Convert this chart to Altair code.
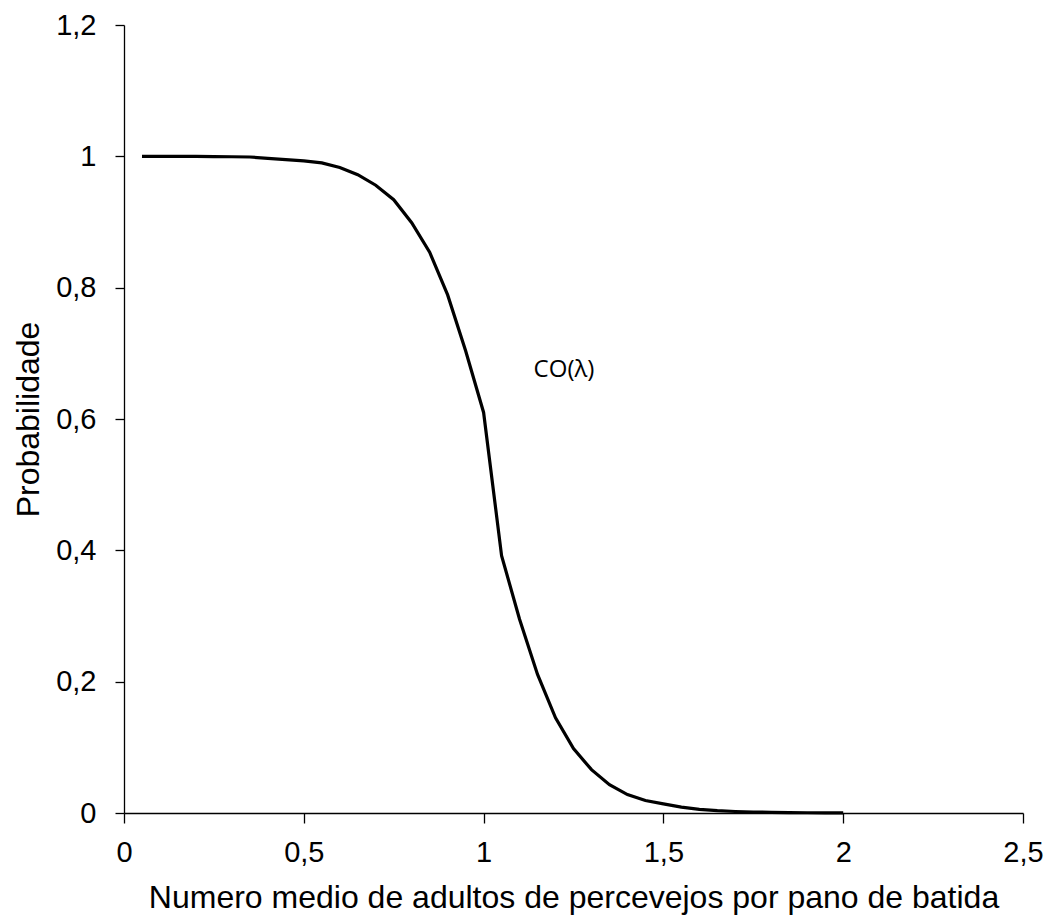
import altair as alt
import pandas as pd

x_vals = [0.05, 0.10, 0.15, 0.20, 0.25, 0.30, 0.35, 0.40, 0.45, 0.50,
          0.55, 0.60, 0.65, 0.70, 0.75, 0.80, 0.85, 0.90, 0.95, 1.00,
          1.05, 1.10, 1.15, 1.20, 1.25, 1.30, 1.35, 1.40, 1.45, 1.50,
          1.55, 1.60, 1.65, 1.70, 1.75, 1.80, 1.85, 1.90, 1.95, 2.00]
prob = [1.0, 1.0, 1.0, 0.9999, 0.9997, 0.9994, 0.999, 0.997, 0.995, 0.993,
        0.990, 0.983, 0.972, 0.956, 0.934, 0.899, 0.854, 0.789, 0.704, 0.610,
        0.392, 0.295, 0.211, 0.145, 0.098, 0.066, 0.043, 0.028, 0.019, 0.014,
        0.0090, 0.0055, 0.0035, 0.0023, 0.0015, 0.0010, 0.0006, 0.0004, 0.0002, 0.0001]

x_ticks = [0, 0.5, 1, 1.5, 2, 2.5]
y_ticks = [0, 0.2, 0.4, 0.6, 0.8, 1.0, 1.2]

label_text = ["CO(λ)"]
label_x = [1.2236]
label_y = [0.6636]

df = pd.DataFrame({"x": x_vals, "p": prob})
lab = pd.DataFrame({"x": label_x, "y": label_y, "t": label_text})

fmt = "replace(format(datum.value, '.1~f'), '.', ',')"

xscale = alt.Scale(domain=[0, 2.5], nice=False, zero=False)
yscale = alt.Scale(domain=[0, 1.2], nice=False, zero=False)

line = alt.Chart(df).mark_line(color="black", strokeWidth=3.2).encode(
    x=alt.X("x:Q", scale=xscale,
            axis=alt.Axis(values=x_ticks, labelExpr=fmt,
                          title="Numero medio de adultos de percevejos por pano de batida",
                          grid=False, domainColor="black", tickColor="black",
                          domainWidth=1.3, tickWidth=1.3, tickSize=10,
                          labelFont="Liberation Sans", labelFontSize=29, labelColor="black",
                          labelBaseline="alphabetic", labelPadding=38,
                          titleFont="Liberation Sans", titleFontSize=32, titleFontWeight="normal",
                          titleColor="black", titleBaseline="alphabetic", titleY=94,
                          labelFlush=False, labelOverlap=False)),
    y=alt.Y("p:Q", scale=yscale,
            axis=alt.Axis(values=y_ticks, labelExpr=fmt,
                          title="Probabilidade",
                          grid=False, domainColor="black", tickColor="black",
                          domainWidth=1.3, tickWidth=1.3, tickSize=9,
                          labelFont="Liberation Sans", labelFontSize=29, labelColor="black",
                          labelPadding=19,
                          titleFont="Liberation Sans", titleFontSize=32, titleFontWeight="normal",
                          titleColor="black", titleBaseline="alphabetic", titleAngle=270,
                          titleX=-86, titleY=394, titleAlign="center",
                          labelFlush=False, labelOverlap=False)),
)

text = alt.Chart(lab).mark_text(font="Open Sans", fontSize=24, color="black",
                                align="center", baseline="alphabetic").encode(
    x=alt.X("x:Q", scale=xscale),
    y=alt.Y("y:Q", scale=yscale),
    text="t:N",
)

chart = alt.layer(line, text).properties(
    width=899, height=788,
    autosize=alt.AutoSizeParams(type="none"),
    padding={"left": 124, "top": 25, "right": 29, "bottom": 104},
    background="white",
).configure_view(stroke=None)

chart.save("out.html", embed_options={"renderer": "svg", "actions": False})
